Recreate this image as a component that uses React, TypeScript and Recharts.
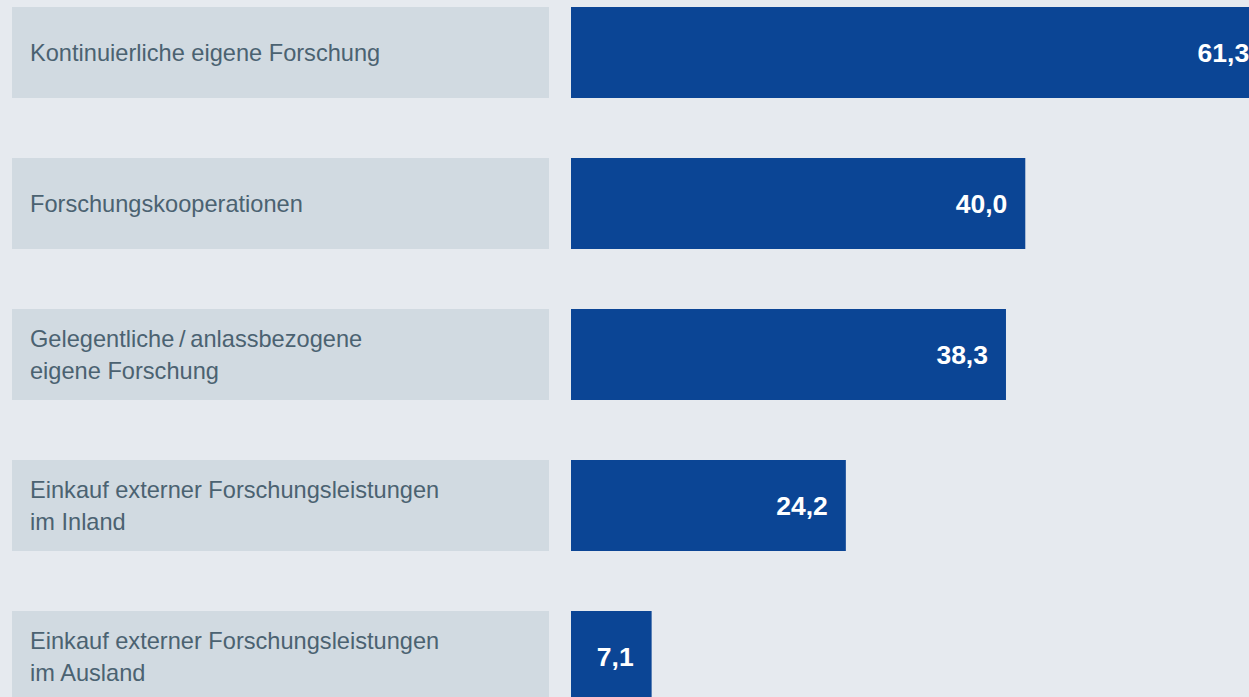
import { Bar, BarChart, LabelList, XAxis, YAxis } from "recharts";

const categories = [
  "Kontinuierliche eigene Forschung",
  "Forschungskooperationen",
  "Gelegentliche\u2009/\u2009anlassbezogene\neigene Forschung",
  "Einkauf externer Forschungsleistungen\nim Inland",
  "Einkauf externer Forschungsleistungen\nim Ausland",
];

const shares = [61.3, 40.0, 38.3, 24.2, 7.1];

const data = categories.map((name, i) => ({ name, value: shares[i] }));

const FONT = "'Liberation Sans', Arial, Helvetica, sans-serif";

function CategoryTick(props: any) {
  const { y, payload } = props;
  const lines = String(payload.value).split("\n");
  const lineGap = 32;
  const startY = y - ((lines.length - 1) * lineGap) / 2;
  return (
    <g>
      <rect x={12} y={y - 45.5} width={537} height={91} fill="#d1dae1" />
      <text
        x={30}
        y={startY}
        fill="#4b6271"
        fontSize={23.6}
        fontFamily={FONT}
        dominantBaseline="central"
      >
        {lines.map((line, i) => (
          <tspan key={i} x={30} y={startY + i * lineGap} dominantBaseline="central">
            {line}
          </tspan>
        ))}
      </text>
    </g>
  );
}

function ValueLabel(props: any) {
  const { x, y, width, height, value } = props;
  return (
    <text
      x={x + width - 18}
      y={y + height / 2}
      fill="#ffffff"
      fontSize={26.5}
      fontWeight="bold"
      fontFamily={FONT}
      textAnchor="end"
      dominantBaseline="central"
    >
      {Number(value).toFixed(1).replace(".", ",")}
    </text>
  );
}

export default function App() {
  return (
    <div
      style={{
        position: "fixed",
        top: 0,
        left: 0,
        width: 1249,
        height: 697,
        overflow: "hidden",
        background: "#e6eaef",
      }}
    >
      <div style={{ position: "absolute", top: -23, left: 0 }}>
        <BarChart
          width={1400}
          height={755}
          data={data}
          layout="vertical"
          margin={{ top: 0, right: 34, left: 0, bottom: 0 }}
        >
          <XAxis type="number" domain={[0, 70]} hide />
          <YAxis
            type="category"
            dataKey="name"
            width={571}
            axisLine={false}
            tickLine={false}
            tick={<CategoryTick />}
            interval={0}
          />
          <Bar dataKey="value" fill="#0b4595" barSize={91} isAnimationActive={false}>
            <LabelList dataKey="value" content={<ValueLabel />} />
          </Bar>
        </BarChart>
      </div>
    </div>
  );
}
